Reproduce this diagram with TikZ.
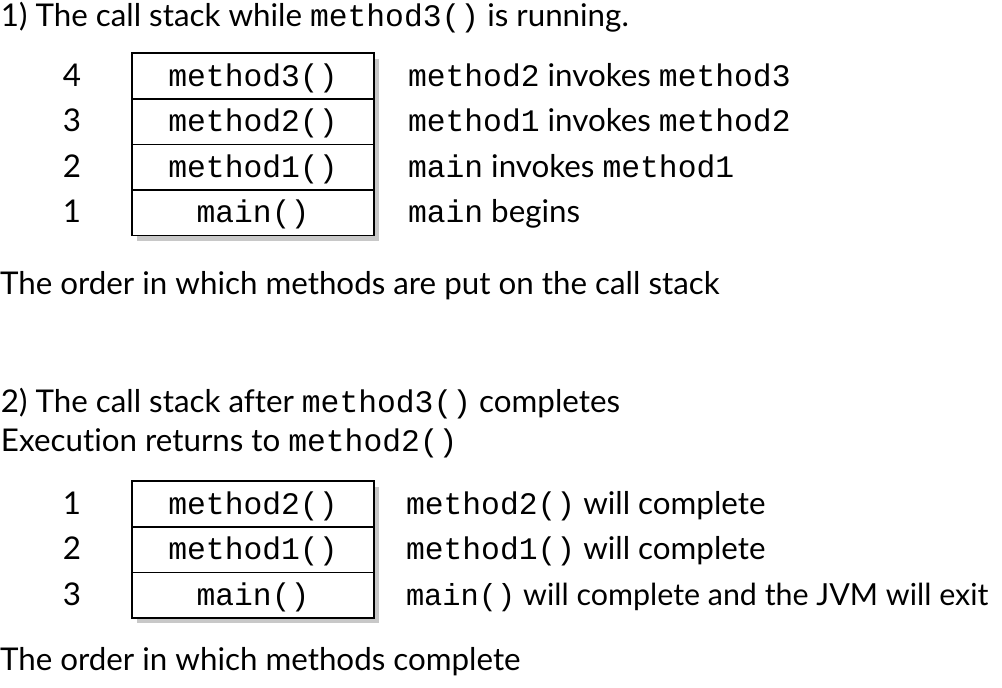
\documentclass[tikz,border=0pt]{standalone}
\usepackage{fontspec}
\setmainfont{Lato}[Ligatures=NoCommon]
\setmonofont{Liberation Mono}
\usetikzlibrary{positioning,fit,shadows,backgrounds}
\definecolor{shadowgray}{RGB}{200,200,200}
\newcommand{\code}[1]{\texttt{#1}}
\tikzset{
  basetext/.style={inner sep=0pt,outer sep=0pt,font=\fontsize{23.5}{28}\selectfont,text height=20pt,text depth=5pt},
  linetext/.style={basetext,anchor=base west},
  cell/.style={basetext,draw=black,line width=1.1pt,fill=white,minimum width=181.5pt,minimum height=34.2pt,font=\fontsize{23.5}{28}\ttfamily},
  numnode/.style={basetext,minimum width=20pt,align=center},
  descnode/.style={basetext,anchor=west},
  stackshadow/.style={fill=white,inner sep=0pt,drop shadow={shadow xshift=3.5pt,shadow yshift=-4pt,fill=shadowgray,opacity=1}}
}
\begin{document}
\begin{tikzpicture}[x=0.75pt,y=-0.75pt]
  \useasboundingbox (0,0) rectangle (1002,687);

  %% Part 1: call stack while method3 runs
  \node[linetext] (title1) at (1,26) {1) The call stack while \code{method3()} is running.};

  \node[cell] (s4) at (253,76) {method3()};
  \node[cell,below=0pt of s4] (s3) {method2()};
  \node[cell,below=0pt of s3] (s2) {method1()};
  \node[cell,below=0pt of s2] (s1) {main()};

  \node[numnode,left=35pt of s4] (n4) {4};
  \node[numnode,left=35pt of s3] (n3) {3};
  \node[numnode,left=35pt of s2] (n2) {2};
  \node[numnode,left=35pt of s1] (n1) {1};

  \node[descnode,right=25.5pt of s4] (d4) {\code{method2} invokes \code{method3}};
  \node[descnode,right=25.5pt of s3] (d3) {\code{method1} invokes \code{method2}};
  \node[descnode,right=25.5pt of s2] (d2) {\code{main} invokes \code{method1}};
  \node[descnode,right=25.5pt of s1] (d1) {\code{main} begins};

  \node[linetext] (order1) at (0,294) {The order in which methods are put on the call stack};

  %% Part 2: call stack after method3 completes
  \node[linetext] (title2) at (1,412) {2) The call stack after \code{method3()} completes};
  \node[linetext] (title2b) at (1,451) {Execution returns to \code{method2()}};

  \node[cell] (t3) at (253,504) {method2()};
  \node[cell,below=0pt of t3] (t2) {method1()};
  \node[cell,below=0pt of t2] (t1) {main()};

  \node[numnode,left=35pt of t3] (m1) {1};
  \node[numnode,left=35pt of t2] (m2) {2};
  \node[numnode,left=35pt of t1] (m3) {3};

  \node[descnode,right=24pt of t3] (e3) {\code{method2()} will complete};
  \node[descnode,right=24pt of t2] (e2) {\code{method1()} will complete};
  \node[descnode,right=24pt of t1,font=\fontsize{22.8}{28}\selectfont] (e1)
    {\code{main()} will complete and the JVM will exit};

  \node[linetext] (order2) at (0,670) {The order in which methods complete};

  \begin{pgfonlayer}{background}
    \node[stackshadow,fit=(s4)(s1)] {};
    \node[stackshadow,fit=(t3)(t1)] {};
  \end{pgfonlayer}
\end{tikzpicture}
\end{document}
